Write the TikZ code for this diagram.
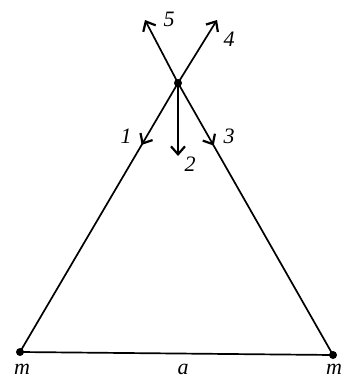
\documentclass[tikz,border=0pt]{standalone}
\usepackage{fontspec}
\setmainfont{Liberation Serif}
\usetikzlibrary{arrows.meta,decorations.markings}
\begin{document}
\begin{tikzpicture}[x=1pt,y=-1pt,
  line width=1.7pt,
  barb/.style={-{Straight Barb[length=8pt,width=14pt,line width=2.2pt]}},
  lbl/.style={font=\fontsize{22}{22}\selectfont\itshape, inner sep=0pt},
  mass/.style={circle, fill=black, inner sep=0pt, minimum size=8pt},
  midarrow/.style={postaction={decorate},decoration={markings,
     mark=at position #1 with {\arrow{Straight Barb[length=8pt,width=14pt,line width=2.2pt]}}}}
]
\useasboundingbox (0,0) rectangle (349,380);
\node[mass] (T) at (178,83) {};
\node[mass] (L) at (20,352) {};
\node[mass] (R) at (333,355) {};
\coordinate (A5) at (145,20);
\coordinate (A4) at (217,20);
\coordinate (A2) at (178,156);
% sides
\draw[midarrow=0.23] (T.center) -- (L.center);
\draw[midarrow=0.23] (T.center) -- (R.center);
\draw (L.center) -- (R.center);
% arrows
\draw[barb] (T.center) -- (A5);
\draw[barb] (T.center) -- (A4);
\draw[barb] (T.center) -- (A2);
% labels
\node[lbl] (l5) at (169,19) {5};
\node[lbl] (l4) at (229,39) {4};
\node[lbl] (l1) at (126,136) {1};
\node[lbl] (l2) at (190,164) {2};
\node[lbl] (l3) at (229,136) {3};
\node[lbl] (lm1) at (22,369) {m};
\node[lbl] (la) at (183,369) {a};
\node[lbl] (lm2) at (334,369) {m};
\end{tikzpicture}
\end{document}
